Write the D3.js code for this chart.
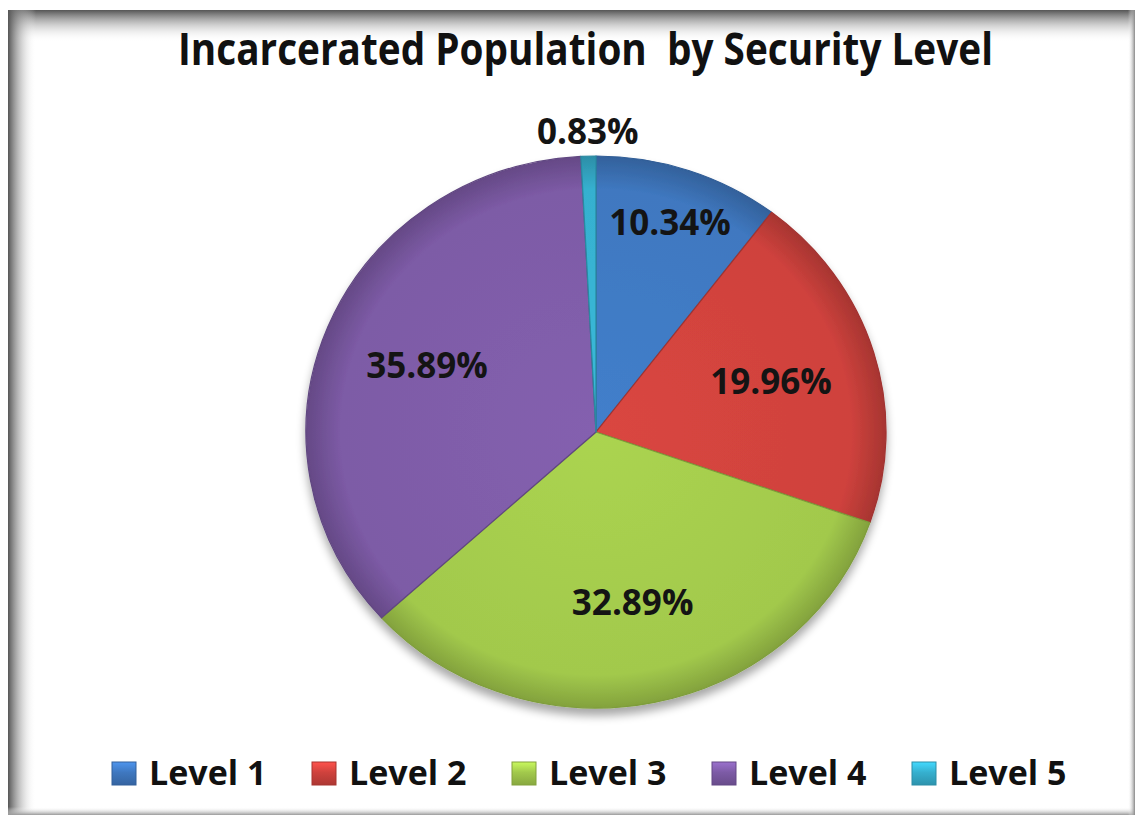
<!DOCTYPE html>
<meta charset="utf-8">
<script src="https://d3js.org/d3.v7.min.js"></script>
<style>
  body { margin: 0; background: #fff; }
  text { font-family: "Open Sans", "DejaVu Sans", sans-serif; }
</style>
<div id="chart"></div>
<script>

// data
const levels = ["Level 1", "Level 2", "Level 3", "Level 4", "Level 5"];
const shares = [10.34, 19.96, 32.89, 35.89, 0.83];
const colors = ["#3f78c0", "#cf423d", "#a2c94c", "#7d5ba6", "#36b0cf"];
const chartTitle = "Incarcerated Population  by Security Level";

const W = 1135, H = 815;
const cx = 596, cy = 432, ry = 276, rx = 290;
const sx = rx / ry;

const svg = d3.select("#chart").append("svg")
    .attr("width", W)
    .attr("height", H);

const defs = svg.append("defs");

// frame shadows
const gTop = defs.append("linearGradient").attr("id", "gTop")
    .attr("x1", 0).attr("y1", 0).attr("x2", 0).attr("y2", 1);
gTop.append("stop").attr("offset", "0%").attr("stop-color", "#555").attr("stop-opacity", 1);
gTop.append("stop").attr("offset", "100%").attr("stop-color", "#fff").attr("stop-opacity", 0);

const gLeft = defs.append("linearGradient").attr("id", "gLeft")
    .attr("x1", 0).attr("y1", 0).attr("x2", 1).attr("y2", 0);
gLeft.append("stop").attr("offset", "0%").attr("stop-color", "#555").attr("stop-opacity", 1);
gLeft.append("stop").attr("offset", "100%").attr("stop-color", "#fff").attr("stop-opacity", 0);

const gBottom = defs.append("linearGradient").attr("id", "gBottom")
    .attr("x1", 0).attr("y1", 0).attr("x2", 0).attr("y2", 1);
gBottom.append("stop").attr("offset", "0%").attr("stop-color", "#fff").attr("stop-opacity", 0);
gBottom.append("stop").attr("offset", "100%").attr("stop-color", "#999").attr("stop-opacity", 1);

const gRight = defs.append("linearGradient").attr("id", "gRight")
    .attr("x1", 0).attr("y1", 0).attr("x2", 1).attr("y2", 0);
gRight.append("stop").attr("offset", "0%").attr("stop-color", "#fff").attr("stop-opacity", 0);
gRight.append("stop").attr("offset", "100%").attr("stop-color", "#888").attr("stop-opacity", 1);

svg.append("rect").attr("x", 8).attr("y", 10).attr("width", W - 8).attr("height", H - 10).attr("fill", "#fff");
svg.append("rect").attr("x", 8).attr("y", 10).attr("width", W - 8).attr("height", 32).attr("fill", "url(#gTop)");
svg.append("rect").attr("x", 8).attr("y", 10).attr("width", 28).attr("height", H - 10).attr("fill", "url(#gLeft)");
svg.append("rect").attr("x", 8).attr("y", H - 8).attr("width", W - 8).attr("height", 8).attr("fill", "url(#gBottom)");
svg.append("rect").attr("x", W - 7).attr("y", 10).attr("width", 7).attr("height", H - 10).attr("fill", "url(#gRight)");

// pie shadow
const shadow = defs.append("filter").attr("id", "shadow")
    .attr("x", "-10%").attr("y", "-10%").attr("width", "120%").attr("height", "125%");
shadow.append("feGaussianBlur").attr("in", "SourceAlpha").attr("stdDeviation", 5).attr("result", "b");
shadow.append("feOffset").attr("in", "b").attr("dy", 7).attr("result", "o");
shadow.append("feComponentTransfer").attr("in", "o").attr("result", "s")
  .append("feFuncA").attr("type", "linear").attr("slope", 0.35);
const merge = shadow.append("feMerge");
merge.append("feMergeNode").attr("in", "s");
merge.append("feMergeNode").attr("in", "SourceGraphic");

// slice gradients
colors.forEach((c, i) => {
  const g = defs.append("radialGradient").attr("id", "slice" + i)
      .attr("gradientUnits", "userSpaceOnUse")
      .attr("cx", 0).attr("cy", 0).attr("r", ry);
  g.append("stop").attr("offset", "0%").attr("stop-color", d3.color(c).brighter(0.15));
  g.append("stop").attr("offset", "88%").attr("stop-color", c);
  g.append("stop").attr("offset", "100%").attr("stop-color", d3.color(c).darker(0.6));

  const lg = defs.append("linearGradient").attr("id", "key" + i)
      .attr("x1", 0).attr("y1", 0).attr("x2", 0).attr("y2", 1);
  lg.append("stop").attr("offset", "0%").attr("stop-color", d3.color(c).brighter(0.6));
  lg.append("stop").attr("offset", "45%").attr("stop-color", c);
  lg.append("stop").attr("offset", "100%").attr("stop-color", d3.color(c).darker(0.5));
});

// title
svg.append("text")
    .attr("x", 178)
    .attr("y", 65)
    .attr("textLength", 815)
    .attr("lengthAdjust", "spacingAndGlyphs")
    .style("white-space", "pre")
    .attr("font-size", 45)
    .attr("font-weight", 700)
    .attr("fill", "#111")
    .text(chartTitle);

// pie
const pie = d3.pie().sort(null).value(d => d)(shares);
const arc = d3.arc().innerRadius(0).outerRadius(ry);

const pieG = svg.append("g")
    .attr("filter", "url(#shadow)")
  .append("g")
    .attr("transform", `translate(${cx},${cy}) scale(${sx},1)`);

pieG.selectAll("path")
  .data(pie)
  .join("path")
    .attr("d", arc)
    .attr("fill", (d, i) => `url(#slice${i})`)
    .attr("stroke", (d, i) => d3.color(colors[i]).darker(0.7))
    .attr("stroke-width", 1.2)
    .attr("stroke-linejoin", "round");

// labels: small slices pushed outward, tiny ones outside the pie
function labelRadius(v) {
  if (v < 2) return ry * 1.09;
  if (v < 15) return ry * 0.8;
  return ry * 0.63;
}

svg.append("g")
  .selectAll("text")
  .data(pie)
  .join("text")
    .attr("transform", d => {
      const r = labelRadius(d.value);
      const [x, y] = d3.arc().innerRadius(r).outerRadius(r).centroid(d);
      return `translate(${cx + x * sx},${cy + y})`;
    })
    .attr("text-anchor", "middle")
    .attr("dy", "0.36em")
    .attr("font-size", 35)
    .attr("font-weight", 700)
    .attr("fill", "#141414")
    .text(d => d.value.toFixed(2) + "%");

// legend
const legend = svg.append("g").attr("transform", "translate(112,762)");
const item = legend.selectAll("g")
  .data(levels)
  .join("g")
    .attr("transform", (d, i) => `translate(${i * 200},0)`);

item.append("rect")
    .attr("width", 24)
    .attr("height", 23)
    .attr("fill", (d, i) => `url(#key${i})`)
    .attr("stroke", (d, i) => d3.color(colors[i]).darker(0.6))
    .attr("stroke-width", 1);

item.append("text")
    .attr("x", 37)
    .attr("y", 23)
    .attr("font-size", 34)
    .attr("font-weight", 700)
    .attr("fill", "#111")
    .text(d => d);

</script>
